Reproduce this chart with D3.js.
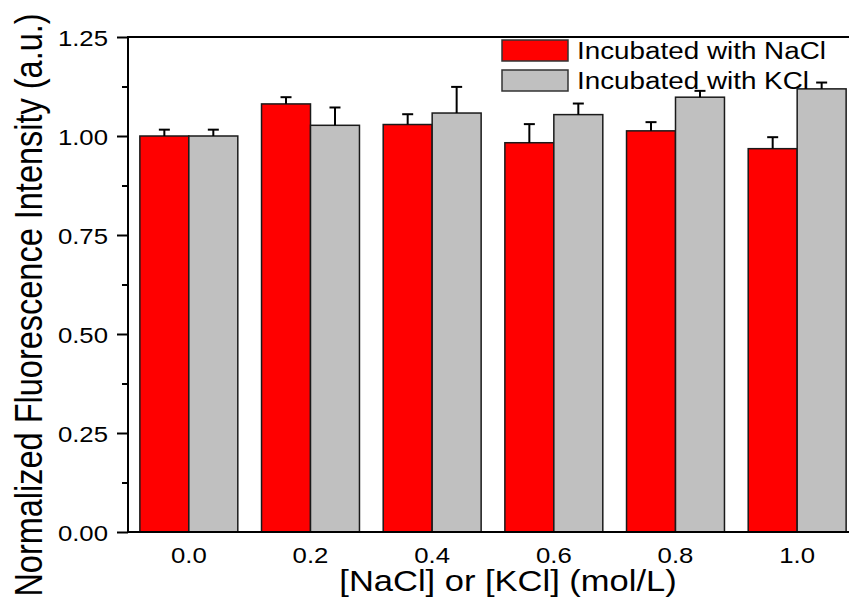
<!DOCTYPE html>
<html>
<head>
<meta charset="utf-8">
<script src="https://cdn.jsdelivr.net/npm/d3@7"></script>
<style>
  html, body { margin: 0; padding: 0; background: #fff; }
  svg { display: block; font-family: "Liberation Sans", Arial, sans-serif; }
</style>
</head>
<body>
<svg id="chart" width="849" height="605"></svg>
<script>
// Salt concentrations (mol/L) on the x axis
const concentrations = ["0.0", "0.2", "0.4", "0.6", "0.8", "1.0"];

// Normalized fluorescence intensity and upper error for each incubation
const naclValues = [1.000, 1.081, 1.029, 0.983, 1.013, 0.968];
const naclErrors = [0.016, 0.017, 0.026, 0.047, 0.022, 0.029];
const kclValues  = [1.000, 1.027, 1.058, 1.054, 1.098, 1.119];
const kclErrors  = [0.016, 0.045, 0.066, 0.028, 0.016, 0.016];

const seriesNames = ["Incubated with NaCl", "Incubated with KCl"];
const seriesColors = ["#ff0000", "#c0c0c0"];

const yTicks = [0, 0.25, 0.5, 0.75, 1.0, 1.25];
const yMinorTicks = [0.125, 0.375, 0.625, 0.875, 1.125];

const xTitle = "[NaCl] or [KCl] (mol/L)";
const yTitle = "Normalized Fluorescence Intensity (a.u.)";

const series = [
  { name: seriesNames[0], color: seriesColors[0], values: naclValues, errors: naclErrors },
  { name: seriesNames[1], color: seriesColors[1], values: kclValues, errors: kclErrors }
];

const svg = d3.select("#chart");
const plotLeft = 128, plotTop = 37, plotBottom = 532, plotRight = 858;
const sx = 1.17; // horizontal stretch applied to all lettering

const x = d3.scaleBand()
  .domain(concentrations)
  .range([plotLeft, plotRight])
  .paddingInner(0.195)
  .paddingOuter(0.0975);

const xSub = d3.scaleBand()
  .domain(seriesNames)
  .range([0, x.bandwidth()])
  .padding(0);

const y = d3.scaleLinear().domain([0, 1.25]).range([plotBottom, plotTop]);

// Bars
const groups = svg.append("g").selectAll("g")
  .data(concentrations)
  .join("g")
  .attr("transform", d => `translate(${x(d)},0)`);

groups.selectAll("rect")
  .data((d, i) => series.map(s => ({ s, v: s.values[i], e: s.errors[i] })))
  .join("rect")
  .attr("x", d => xSub(d.s.name))
  .attr("y", d => y(d.v))
  .attr("width", xSub.bandwidth())
  .attr("height", d => y(0) - y(d.v))
  .attr("fill", d => d.s.color)
  .attr("stroke", "#1a1a1a")
  .attr("stroke-width", 1.5);

// Upper error bars
const capHalf = 5.5;
groups.selectAll("g.err")
  .data((d, i) => series.map(s => ({ s, v: s.values[i], e: s.errors[i] })))
  .join("g")
  .attr("class", "err")
  .each(function (d) {
    const cx = xSub(d.s.name) + xSub.bandwidth() / 2;
    const g = d3.select(this);
    g.append("line")
      .attr("x1", cx).attr("x2", cx)
      .attr("y1", y(d.v)).attr("y2", y(d.v + d.e))
      .attr("stroke", "#000").attr("stroke-width", 2);
    g.append("line")
      .attr("x1", cx - capHalf).attr("x2", cx + capHalf)
      .attr("y1", y(d.v + d.e)).attr("y2", y(d.v + d.e))
      .attr("stroke", "#000").attr("stroke-width", 2);
  });

// Y axis with major and minor outward ticks
const yAxis = svg.append("g").attr("transform", `translate(${plotLeft},0)`);
yAxis.call(d3.axisLeft(y).tickValues(yTicks).tickSize(11).tickFormat(d3.format(".2f")));
yAxis.select(".domain").remove();
yAxis.selectAll(".tick line").attr("stroke", "#000").attr("stroke-width", 2);
yAxis.selectAll(".tick text").remove();
yAxis.selectAll(".tick")
  .append("text")
  .attr("transform", `translate(-20,8) scale(${sx},1)`)
  .attr("text-anchor", "end")
  .attr("fill", "#000")
  .attr("font-size", 22)
  .text(d => d3.format(".2f")(d));

const yMinor = svg.append("g").attr("transform", `translate(${plotLeft},0)`);
yMinor.call(d3.axisLeft(y).tickValues(yMinorTicks).tickSize(6).tickFormat(""));
yMinor.select(".domain").remove();
yMinor.selectAll(".tick line").attr("stroke", "#000").attr("stroke-width", 2);

// Frame lines
svg.append("line")
  .attr("x1", plotLeft).attr("x2", plotLeft).attr("y1", plotTop - 1).attr("y2", plotBottom + 1)
  .attr("stroke", "#000").attr("stroke-width", 2);
svg.append("line")
  .attr("x1", plotLeft).attr("x2", plotRight).attr("y1", plotBottom).attr("y2", plotBottom)
  .attr("stroke", "#000").attr("stroke-width", 2);
svg.append("line")
  .attr("x1", plotLeft).attr("x2", plotRight).attr("y1", plotTop).attr("y2", plotTop)
  .attr("stroke", "#000").attr("stroke-width", 2);

// X category labels
svg.append("g").selectAll("text")
  .data(concentrations)
  .join("text")
  .attr("transform", d => `translate(${x(d) + x.bandwidth() / 2},563) scale(${sx},1)`)
  .attr("text-anchor", "middle")
  .attr("font-size", 22)
  .attr("fill", "#000")
  .text(d => d);

// Axis titles
svg.append("text")
  .attr("transform", `translate(508,591) scale(${sx},1)`)
  .attr("text-anchor", "middle")
  .attr("font-size", 29.5)
  .attr("fill", "#000")
  .text(xTitle);

svg.append("text")
  .attr("transform", `translate(42,305) scale(${sx},1) rotate(-90)`)
  .attr("text-anchor", "middle")
  .attr("font-size", 32.5)
  .attr("fill", "#000")
  .text(yTitle);

// Legend
const legend = svg.append("g").selectAll("g")
  .data(series)
  .join("g")
  .attr("transform", (d, i) => `translate(502,${40 + i * 30})`);
legend.append("rect")
  .attr("width", 66).attr("height", 21)
  .attr("fill", d => d.color)
  .attr("stroke", "#333").attr("stroke-width", 1.5);
legend.append("text")
  .attr("transform", `translate(75,19) scale(1.21,1)`)
  .attr("font-size", 23)
  .attr("fill", "#000")
  .text(d => d.name);
</script>
</body>
</html>
